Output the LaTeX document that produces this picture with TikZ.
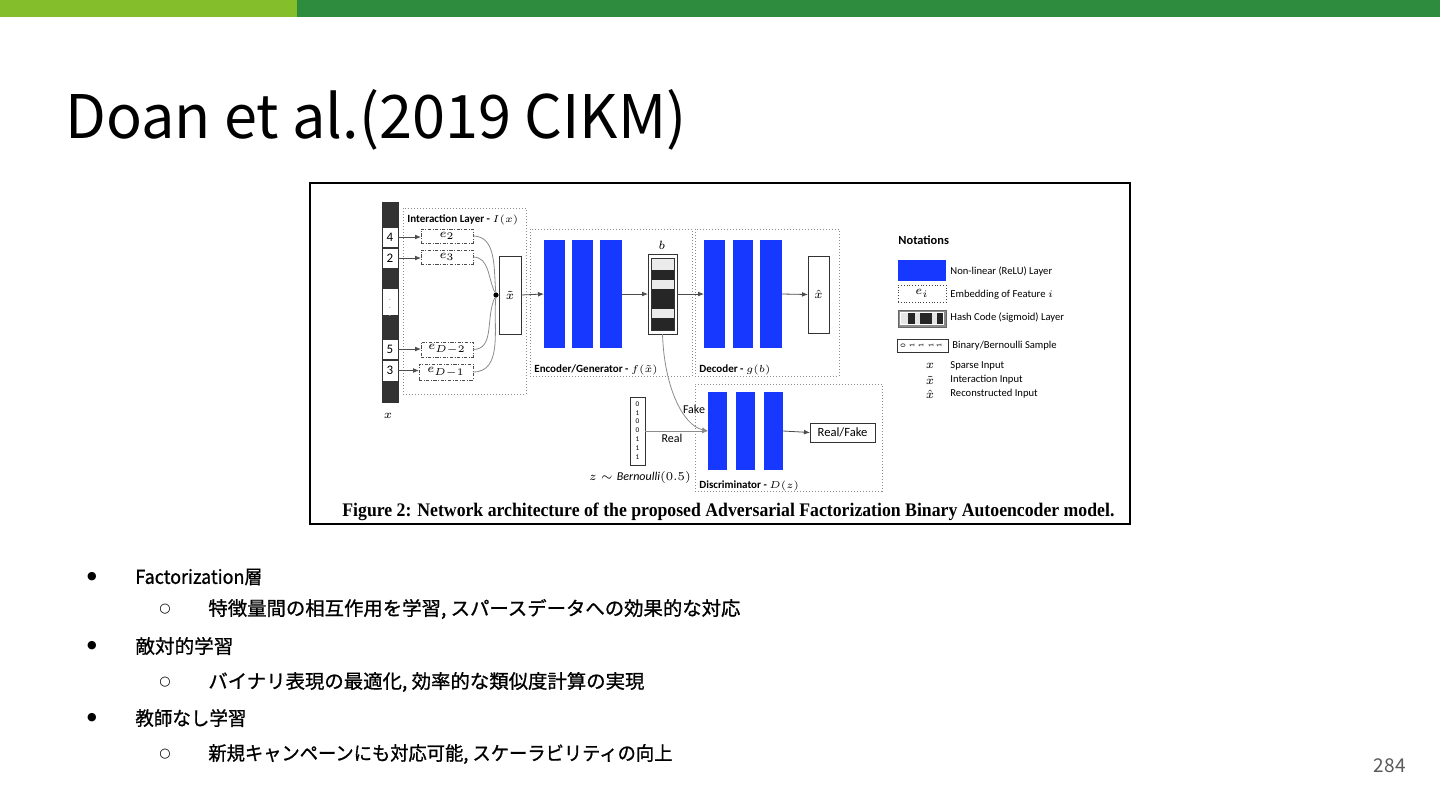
\documentclass[tikz,border=0pt]{standalone}
\usepackage{fontspec}
\usepackage{amsmath}
\setmainfont{Carlito}
\newfontfamily\jpfont{Noto Sans CJK JP}
\newfontfamily\jpbfont[FakeBold=0.9]{Noto Sans CJK JP}
\newfontfamily\capfont{Liberation Serif}
\newfontfamily\symfont{DejaVu Sans}
\usetikzlibrary{fit,arrows.meta,calc}
\definecolor{lgreen}{RGB}{132,190,42}
\definecolor{dgreen}{RGB}{46,140,62}
\definecolor{nblue}{RGB}{22,56,255}
\definecolor{pgnum}{RGB}{90,90,90}
\tikzset{
 px/.style={inner sep=0pt, outer sep=0pt},
 layer/.style={px, fill=nblue},
 emb/.style={px, draw=black!70, dash pattern=on 1.6pt off 0.8pt on 0.4pt off 0.8pt, line width=0.4pt},
 grp/.style={px, draw=black!45, densely dotted, line width=0.5pt},
 plain/.style={px, draw=black!80, line width=0.5pt, fill=white},
 darkcell/.style={px, fill=black!80, draw=black!80, line width=0.5pt},
 cell/.style={px, draw=black!80, fill=white, line width=0.5pt},
 arr/.style={draw=black!70, line width=0.4pt, -{Latex[length=3pt,width=2.4pt]}},
 curve/.style={draw=black!45, line width=0.4pt},
 lab/.style={font=\fontsize{5.5}{7}\selectfont\bfseries, inner sep=0, anchor=base west},
 note/.style={font=\fontsize{5.3}{6.5}\selectfont, inner sep=0, anchor=west},
 mth/.style={font=\fontsize{6}{7}\selectfont, inner sep=0},
 bul/.style={font=\symfont\fontsize{5.5}{6}\selectfont, inner sep=0},
 jtxt/.style={font=\jpbfont\fontsize{9.6}{11}\selectfont, inner sep=0, anchor=west},
}
\begin{document}
\begin{tikzpicture}[x=0.5pt,y=-0.5pt]
\useasboundingbox (0,0) rectangle (1440,810);
\fill[white] (0,0) rectangle (1440,810);
% top bars
\fill[lgreen] (0,0) rectangle (297,17);
\fill[dgreen] (297,0) rectangle (1440,17);
% title
\node[anchor=base west, inner sep=0, font=\jpfont\fontsize{30}{30}\selectfont] (title) at (65,138) {\resizebox{310.5pt}{\height}{Doan et al.(2019 CIKM)}};
% figure frame
\node[fit={(310,183)(1130,524)}, px, draw=black, line width=1pt] (frame) {};

% ---- sparse input column
\node[fit={(382,202)(398,227)}, darkcell] (k1) {};
\node[fit={(382,227)(398,247)}, cell] (c4) {};
\node[fit={(382,248)(398,268)}, cell] (c2) {};
\node[fit={(382,268)(398,288)}, darkcell] (k2) {};
\node[fit={(382,288)(398,315)}, cell] (cd) {};
\node[fit={(382,315)(398,339)}, darkcell] (k3) {};
\node[fit={(382,339)(398,359)}, cell] (c5) {};
\node[fit={(382,360)(398,381)}, cell] (c3) {};
\node[fit={(382,381)(398,402)}, darkcell] (k4) {};
\node[font=\fontsize{6.5}{7}\selectfont, inner sep=0] at (c4) {4};
\node[font=\fontsize{6.5}{7}\selectfont, inner sep=0] at (c2) {2};
\node[font=\fontsize{6.5}{7}\selectfont, inner sep=0] at (c5) {5};
\node[font=\fontsize{6.5}{7}\selectfont, inner sep=0] at (c3) {3};
\node[font=\fontsize{5}{5}\selectfont, text=black!35, inner sep=0] at (cd) {$\vdots$};
\node[mth] (xlab) at (388,416) {$x$};

% ---- interaction layer
\node[fit={(403,208)(526,394)}, grp] (ilayer) {};
\node[lab] (ilab) at (407,222) {Interaction Layer - $I(x)$};
\node[fit={(421,229)(473,243)}, emb] (e2) {};
\node[fit={(421,250)(473,264)}, emb] (e3) {};
\node[fit={(421,342)(473,357)}, emb] (ed2) {};
\node[fit={(419,364)(473,380)}, emb] (ed1) {};
\node[mth] at (e2) {$e_2$};
\node[mth] at (e3) {$e_3$};
\node[mth] at (ed2) {$e_{D-2}$};
\node[mth] at (ed1) {$e_{D-1}$};
\draw[arr] (c4.east) -- (c4.east -| e2.west);
\draw[arr] (c2.east) -- (c2.east -| e3.west);
\draw[arr] (c5.east) -- (c5.east -| ed2.west);
\draw[arr] (c3.east) -- (c3.east -| ed1.west);
\node[fit={(499,256)(521,334)}, plain] (xt) {};
\node[mth] at (xt) {$\tilde{x}$};
\node[circle, fill=black, inner sep=0, minimum size=2.6pt] (dot) at (496,295) {};
\draw[curve] (e2.east) to[out=0,in=95] (dot);
\draw[curve] (e3.east) to[out=0,in=115] (dot);
\draw[curve] (ed2.east) to[out=0,in=-115] (dot);
\draw[curve] (ed1.east) to[out=0,in=-95] (dot);

% ---- encoder
\node[fit={(530,229)(692,376)}, grp] (enc) {};
\node[lab] (enclab) at (534,372) {Encoder/Generator - $f(\tilde{x})$};
\node[fit={(544,240)(565,348)}, layer] (en1) {};
\node[fit={(572,240)(593,348)}, layer] (en2) {};
\node[fit={(600,240)(622,348)}, layer] (en3) {};
\node[fit={(648,254)(677,334)}, plain] (hash) {};
\fill[black!8] (651,258) rectangle (674,270);
\fill[black!85] (651,270) rectangle (674,280);
\fill[black!8] (651,280) rectangle (674,289);
\fill[black!85] (651,289) rectangle (674,309);
\fill[black!8] (651,309) rectangle (674,318);
\fill[black!85] (651,318) rectangle (674,330);
\draw[black!80, line width=0.4pt] (651,258) rectangle (674,330);
\node[mth] (blab) at (662,245) {$b$};
\draw[arr] (xt.east) -- (en1.west);
\draw[arr] (en3.east) -- (hash.west);

% ---- decoder
\node[fit={(695,229)(839,376)}, grp] (dec) {};
\node[lab] (declab) at (699,372) {Decoder - $g(b)$};
\node[fit={(704,240)(725,348)}, layer] (de1) {};
\node[fit={(733,240)(753,348)}, layer] (de2) {};
\node[fit={(760,240)(782,348)}, layer] (de3) {};
\node[fit={(808,256)(829,333)}, plain] (xh) {};
\node[mth] at (xh) {$\hat{x}$};
\draw[arr] (hash.east) -- (de1.west);
\draw[arr] (de3.east) -- (xh.west);

% ---- discriminator
\node[fit={(695,384)(882,491)}, grp] (disc) {};
\node[lab] (disclab) at (699,488) {Discriminator - $D(z)$};
\node[fit={(708,392)(727,470)}, layer] (d1) {};
\node[fit={(736,392)(755,470)}, layer] (d2) {};
\node[fit={(764,392)(783,470)}, layer] (d3) {};
\node[fit={(810,423)(875,442)}, plain] (rf) {};
\node[font=\fontsize{6.3}{7}\selectfont, inner sep=0] at (rf) {Real/Fake};
\draw[arr] (d3.east) -- (rf.west);
\node[fit={(630,397)(645,465)}, plain] (bern) {};
\foreach \v/\yy in {0/404,1/413,0/421,0/430,1/439,1/448,1/457}
  \node[font=\fontsize{3.6}{4}\selectfont, inner sep=0] at (637.5,\yy) {\v};
\node[mth] (zlab) at (640,477) {$z \sim \mathit{Bernoulli}(0.5)$};
\draw[arr, draw=black!45] (bern.east) -- (d1.west);
\draw[arr, draw=black!45] (hash.south) .. controls (664,385) and (682,425) .. (d1.west);
\node[font=\fontsize{6}{7}\selectfont, inner sep=0] (fake) at (694,409) {Fake};
\node[font=\fontsize{6}{7}\selectfont, inner sep=0] (real) at (672,438) {Real};

% ---- notations
\node[lab, font=\fontsize{6.2}{7}\selectfont\bfseries] (nt) at (898,244) {Notations};
\node[fit={(898,260)(946,281)}, layer] (lg1) {};
\node[fit={(898,285)(946,302)}, px, draw=black!75, densely dotted, line width=0.4pt] (lg2) {};
\node[mth] at (lg2) {$e_i$};
\node[fit={(898,310)(946,327)}, px, fill=black!45, draw=black!60, line width=0.4pt] (lg3) {};
\fill[white] (900,312) rectangle (944,325);
\fill[black!10] (901,313) rectangle (908,324);
\fill[black!85] (908,313) rectangle (915,324);
\fill[black!10] (915,313) rectangle (920,324);
\fill[black!85] (920,313) rectangle (932,324);
\fill[black!10] (932,313) rectangle (937,324);
\fill[black!85] (937,313) rectangle (943,324);
\node[fit={(897,339)(948,352)}, plain] (lg4) {};
\foreach \v/\xx in {0/903,1/912,1/921,1/931,1/939}
  \node[font=\fontsize{3.6}{4}\selectfont, inner sep=0, rotate=90] at (\xx,345.5) {\v};
\node[note] at (950,271) {Non-linear (ReLU) Layer};
\node[note] at (950,295) {Embedding of Feature $i$};
\node[note] at (950,318) {Hash Code (sigmoid) Layer};
\node[note] at (952,345.5) {Binary/Bernoulli Sample};
\node[mth] at (930,366) {$x$};
\node[mth] at (930,380) {$\tilde{x}$};
\node[mth] at (930,394) {$\hat{x}$};
\node[note] at (950,366) {Sparse Input};
\node[note] at (950,380) {Interaction Input};
\node[note] at (950,394) {Reconstructed Input};

% caption
\node[anchor=base west, inner sep=0, font=\capfont\bfseries\fontsize{9.6}{11}\selectfont] (cap) at (342,516) {\resizebox{386pt}{\height}{Figure 2: Network architecture of the proposed Adversarial Factorization Binary Autoencoder model.}};

% ---- bullets
\node[bul] (b1) at (92,577) {●};
\node[jtxt] (t1) at (135,577) {\resizebox{63.5pt}{\height}{Factorization層}};
\node[bul, font=\symfont\fontsize{6.5}{7}\selectfont] (b2) at (165,609) {○};
\node[jtxt] (t2) at (208,609) {\resizebox{266pt}{\height}{特徴量間の相互作用を学習, スパースデータへの効果的な対応}};
\node[bul] (b3) at (92,646) {●};
\node[jtxt] (t3) at (135,646) {\resizebox{49pt}{\height}{敵対的学習}};
\node[bul, font=\symfont\fontsize{6.5}{7}\selectfont] (b4) at (165,682) {○};
\node[jtxt] (t4) at (208,682) {\resizebox{218pt}{\height}{バイナリ表現の最適化, 効率的な類似度計算の実現}};
\node[bul] (b5) at (92,718) {●};
\node[jtxt] (t5) at (135,718) {\resizebox{55.5pt}{\height}{教師なし学習}};
\node[bul, font=\symfont\fontsize{6.5}{7}\selectfont] (b6) at (165,754) {○};
\node[jtxt] (t6) at (208,754) {\resizebox{232pt}{\height}{新規キャンペーンにも対応可能, スケーラビリティの向上}};

% page number
\node[anchor=east, inner sep=0, text=pgnum, font=\jpfont\fontsize{9.5}{10}\selectfont] (pg) at (1406,766) {284};
\end{tikzpicture}
\end{document}
